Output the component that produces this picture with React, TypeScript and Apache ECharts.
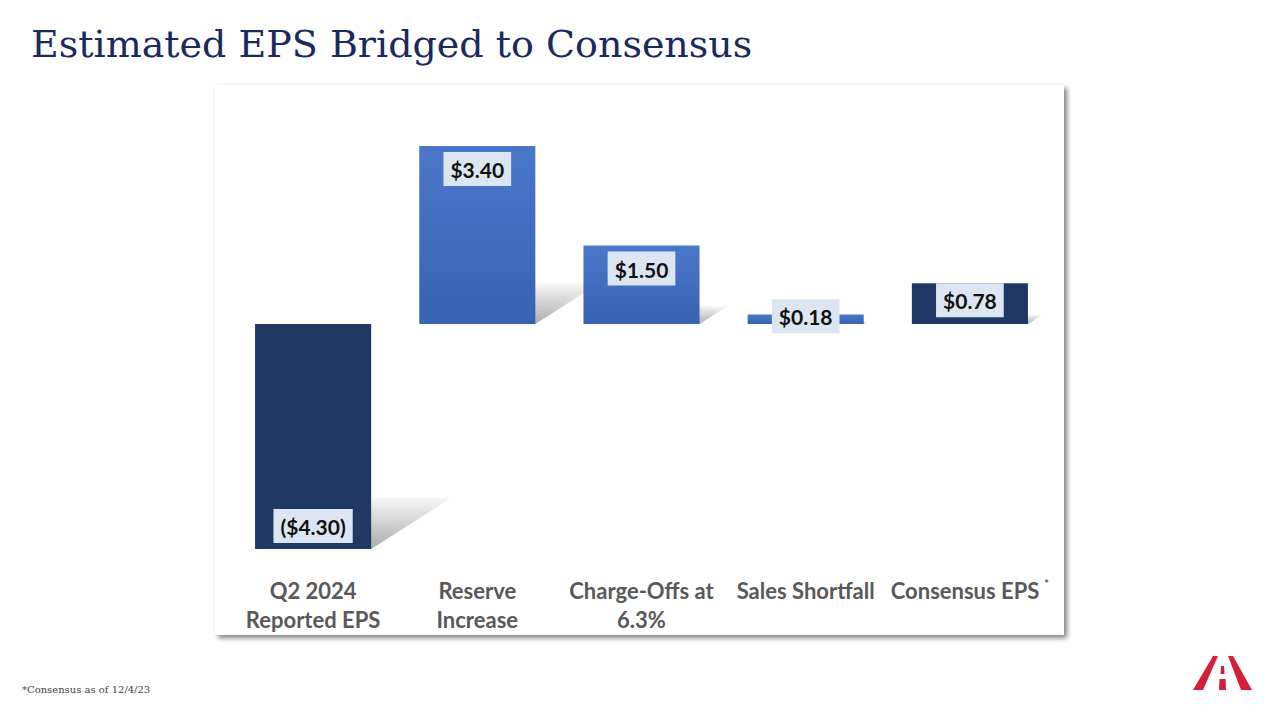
import React, { useEffect, useRef } from "react";
import * as echarts from "echarts";

const categories = ["Q2 2024\nReported EPS", "Reserve\nIncrease", "Charge-Offs at\n6.3%", "Sales Shortfall", "Consensus EPS"];
const values = [-4.3, 3.4, 1.5, 0.18, 0.78];
const valueLabels = ["($4.30)", "$3.40", "$1.50", "$0.18", "$0.78"];
const isTotal = [true, false, false, false, true];
const labelPositions = ["insideBottom", "insideTop", "insideTop", "inside", "insideTop"];
const labelDistances = [6, 6, 6, 0, 0];

const NAVY = "#203864";

export default function App() {
  const ref = useRef<HTMLDivElement>(null);
  useEffect(() => {
    if (!ref.current) return;
    const chart = echarts.init(ref.current, null, { renderer: "svg" });
    const blueGrad = new echarts.graphic.LinearGradient(0, 0, 0, 1, [
      { offset: 0, color: "#4a78c9" },
      { offset: 1, color: "#3862b2" },
    ]);
    const barData = values.map((v, i) => ({
      value: v,
      itemStyle: { color: isTotal[i] ? NAVY : blueGrad },
      label: {
        position: labelPositions[i],
        distance: labelDistances[i],
        offset: i === 3 ? [0, -3] : [0, 0],
        formatter: valueLabels[i],
      },
    }));
    const shadowData = values.map((v, i) => [i, v]);
    const option = {
      animation: false,
      title: {
        text: "Estimated EPS Bridged to Consensus",
        left: 26,
        top: 20,
        textStyle: { fontFamily: "DejaVu Serif", fontSize: 38, fontWeight: "normal", color: "#1b2a5e" },
      },
      graphic: [
        {
          type: "rect",
          z: 0,
          shape: { x: 215, y: 85, width: 849, height: 550 },
          style: { fill: "#ffffff", shadowBlur: 5, shadowOffsetX: 3, shadowOffsetY: 3, shadowColor: "rgba(0,0,0,0.5)" },
        },
        {
          type: "text",
          left: 22,
          top: 684,
          style: { text: "*Consensus as of 12/4/23", font: "10px 'DejaVu Serif'", fill: "#444444" },
        },
        {
          type: "group",
          z: 5,
          children: [
            { type: "polygon", shape: { points: [[1213, 656], [1218, 656], [1203, 690], [1193, 690]] }, style: { fill: "#d31f3a" } },
            { type: "polygon", shape: { points: [[1228, 656], [1233, 656], [1252, 690], [1241, 690]] }, style: { fill: "#d31f3a" } },
            { type: "polygon", shape: { points: [[1221, 666], [1224, 666], [1224.5, 674], [1220.5, 674]] }, style: { fill: "#d31f3a" } },
            { type: "polygon", shape: { points: [[1219.5, 679], [1225.5, 679], [1226, 690], [1219, 690]] }, style: { fill: "#d31f3a" } },
          ],
        },
      ],
      grid: { left: 231, right: 1280 - 1052, top: 114.7, bottom: 160.5, containLabel: false },
      xAxis: {
        type: "category",
        data: categories,
        axisLine: { show: false, onZero: false },
        axisTick: { show: false },
        axisLabel: {
          interval: 0,
          margin: 16,
          color: "#595959",
          fontFamily: "Lato",
          fontWeight: "bold",
          fontSize: 22,
          lineHeight: 29,
          formatter: (v: string) => (v === "Consensus EPS" ? v + "{sup|*}" : v),
          rich: { sup: { fontSize: 11, color: "#595959", padding: [0, 0, 14, 5] } },
        },
      },
      yAxis: { type: "value", min: -4.5, max: 4, show: false, splitLine: { show: false } },
      series: [
        {
          type: "custom",
          z: 1,
          silent: true,
          data: shadowData,
          renderItem: (params: any, api: any) => {
            const i = api.value(0);
            const v = api.value(1);
            const p0 = api.coord([i, 0]);
            const p1 = api.coord([i, v]);
            const w = api.size([1, 0])[0] * 0.707;
            const bottom = Math.max(p0[1], p1[1]);
            const h = Math.abs(p1[1] - p0[1]);
            const left = p0[0] - w / 2;
            const right = p0[0] + w / 2;
            const dx = h * 0.36;
            const dy = h * 0.23;
            return {
              type: "polygon",
              shape: { points: [[left + 4, bottom], [right, bottom], [right + dx, bottom - dy], [left + dx, bottom - dy]] },
              style: {
                fill: new echarts.graphic.LinearGradient(0, 1, 0, 0, [
                  { offset: 0, color: "rgba(0,0,0,0.3)" },
                  { offset: 1, color: "rgba(0,0,0,0.02)" },
                ]),
                shadowBlur: 5,
                shadowColor: "rgba(0,0,0,0.15)",
              },
            };
          },
        },
        {
          type: "bar",
          z: 2,
          barWidth: "70.7%",
          data: barData,
          label: {
            show: true,
            color: "#111111",
            fontFamily: "Lato",
            fontWeight: "bold",
            fontSize: 21,
            backgroundColor: "#dce6f2",
            padding: [7, 7, 6, 7],
          },
        },
      ],
    };
    chart.setOption(option as any);
    return () => chart.dispose();
  }, []);
  return <div ref={ref} style={{ position: "absolute", left: 0, top: 0, width: 1280, height: 720, background: "#fff" }} />;
}
